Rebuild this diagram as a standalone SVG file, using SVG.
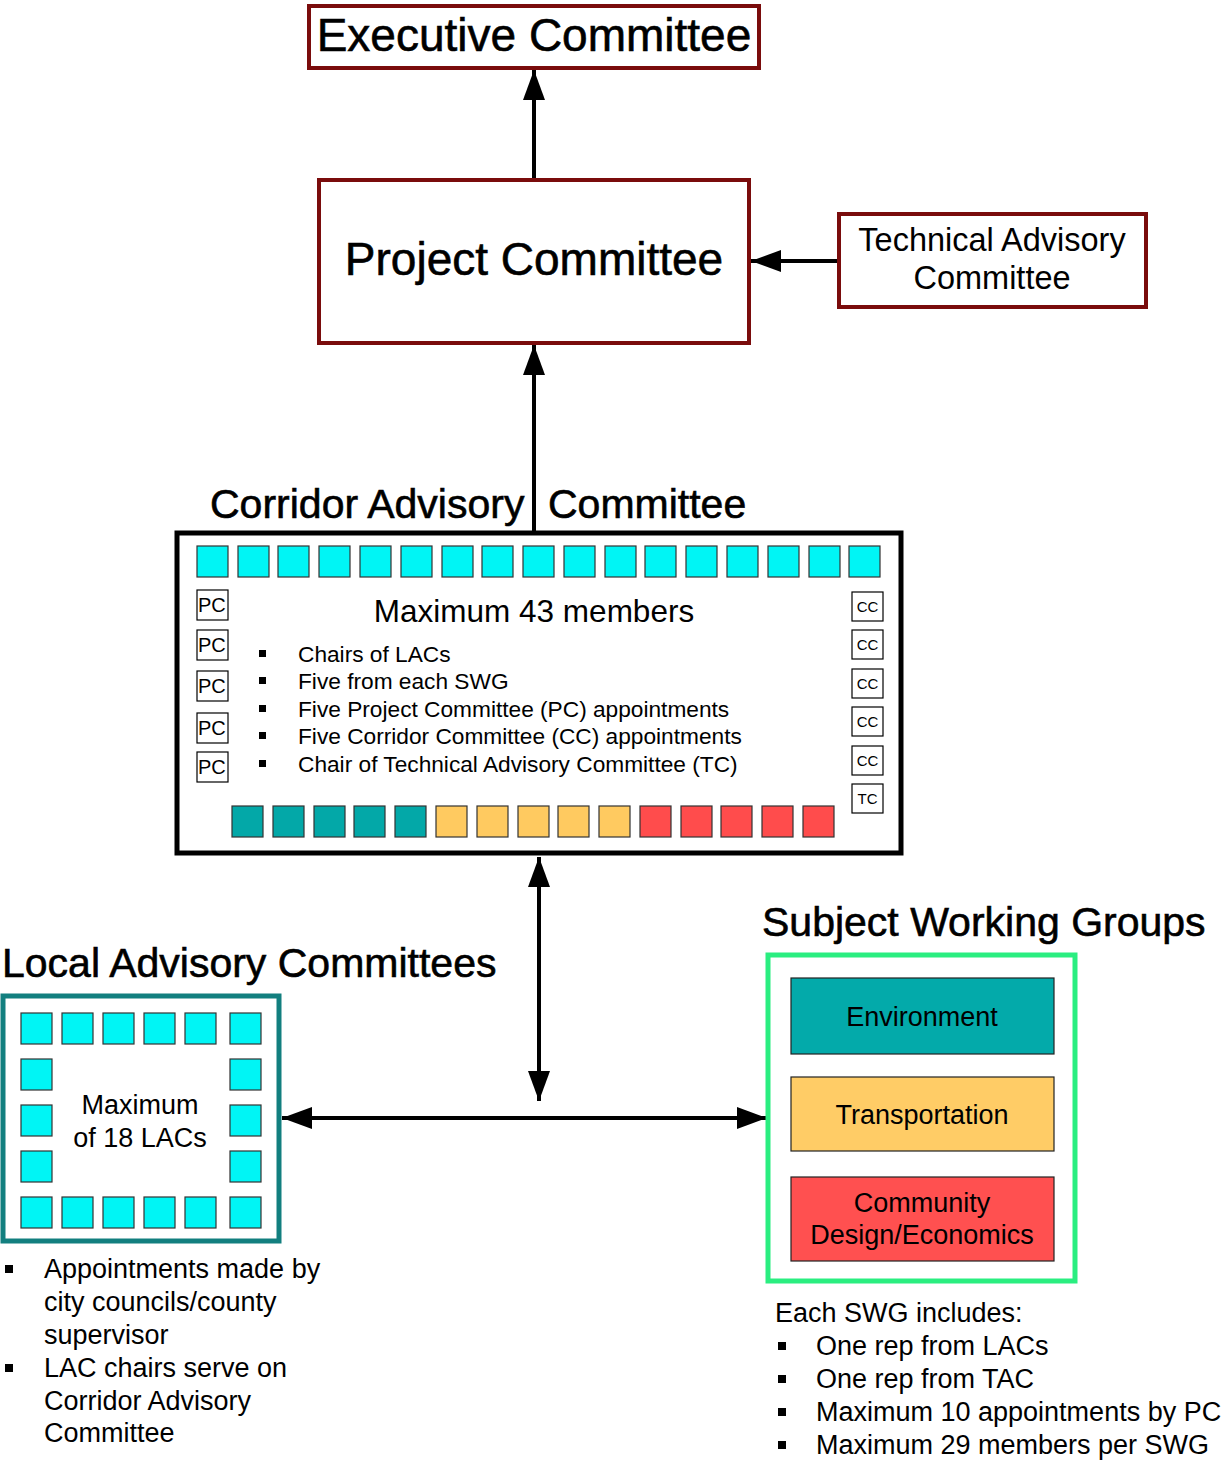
<svg xmlns="http://www.w3.org/2000/svg" width="1225" height="1462" viewBox="0 0 1225 1462">
<defs>
<style>
text{font-family:"Liberation Sans",Arial,sans-serif;fill:#000}
.mr{fill:#fff;stroke:#7a0c0c;stroke-width:4}
.cy{fill:#00f5f5;stroke:#333;stroke-width:1.2}
.te{fill:#03a8a8;stroke:#333;stroke-width:1.2}
.ye{fill:#ffca60;stroke:#333;stroke-width:1.2}
.re{fill:#ff4c4c;stroke:#333;stroke-width:1.2}
.lb{fill:#fff;stroke:#000;stroke-width:1.2}
.cn{stroke:#000;stroke-width:4;fill:none}
.h{font-size:41px;stroke:#000;stroke-width:0.6}
.b22{font-size:22.7px}
.b26{font-size:27px}
</style>
<marker id="ah" markerUnits="userSpaceOnUse" markerWidth="30" markerHeight="24" refX="30" refY="12" orient="auto-start-reverse" viewBox="0 0 30 24">
<path d="M0,1 L30,12 L0,23 z" fill="#000"/>
</marker>
</defs>
<rect width="1225" height="1462" fill="#fff"/>

<g id="connectors">
<line class="cn" x1="534" y1="179" x2="534" y2="70" marker-end="url(#ah)"/>
<line class="cn" x1="838" y1="261" x2="751" y2="261" marker-end="url(#ah)"/>
<line class="cn" x1="534" y1="533" x2="534" y2="345" marker-end="url(#ah)"/>
<line class="cn" x1="539" y1="857" x2="539" y2="1101" marker-start="url(#ah)" marker-end="url(#ah)"/>
<line class="cn" x1="282" y1="1118" x2="767" y2="1118" marker-start="url(#ah)" marker-end="url(#ah)"/>
</g>

<g id="executive-committee">
<rect class="mr" x="309" y="6" width="450" height="62"/>
<text x="534" y="51" font-size="46" text-anchor="middle" stroke="#000" stroke-width="0.6">Executive Committee</text>
</g>

<g id="project-committee">
<rect class="mr" x="319" y="180" width="430" height="163"/>
<text x="534" y="275" font-size="46" text-anchor="middle" stroke="#000" stroke-width="0.6">Project Committee</text>
</g>

<g id="technical-advisory-committee">
<rect class="mr" x="839" y="214" width="307" height="93"/>
<text x="992" y="251" font-size="32.5" text-anchor="middle">Technical Advisory</text>
<text x="992" y="289" font-size="32.5" text-anchor="middle">Committee</text>
</g>

<g id="corridor-advisory-committee">
<text class="h" x="210" y="518">Corridor Advisory</text>
<text class="h" x="548" y="518">Committee</text>
<rect x="177" y="533" width="724" height="320" fill="#fff" stroke="#000" stroke-width="5"/>
<g>
<rect class="cy" x="197" y="546" width="31" height="31"/>
<rect class="cy" x="238" y="546" width="31" height="31"/>
<rect class="cy" x="278" y="546" width="31" height="31"/>
<rect class="cy" x="319" y="546" width="31" height="31"/>
<rect class="cy" x="360" y="546" width="31" height="31"/>
<rect class="cy" x="401" y="546" width="31" height="31"/>
<rect class="cy" x="442" y="546" width="31" height="31"/>
<rect class="cy" x="482" y="546" width="31" height="31"/>
<rect class="cy" x="523" y="546" width="31" height="31"/>
<rect class="cy" x="564" y="546" width="31" height="31"/>
<rect class="cy" x="605" y="546" width="31" height="31"/>
<rect class="cy" x="645" y="546" width="31" height="31"/>
<rect class="cy" x="686" y="546" width="31" height="31"/>
<rect class="cy" x="727" y="546" width="31" height="31"/>
<rect class="cy" x="768" y="546" width="31" height="31"/>
<rect class="cy" x="809" y="546" width="31" height="31"/>
<rect class="cy" x="849" y="546" width="31" height="31"/>
</g>
<g>
<rect class="lb" x="197" y="590" width="31" height="30"/><text x="198" y="612" font-size="20">PC</text>
<rect class="lb" x="197" y="630" width="31" height="30"/><text x="198" y="652" font-size="20">PC</text>
<rect class="lb" x="197" y="671" width="31" height="30"/><text x="198" y="693" font-size="20">PC</text>
<rect class="lb" x="197" y="713" width="31" height="30"/><text x="198" y="735" font-size="20">PC</text>
<rect class="lb" x="197" y="752" width="31" height="30"/><text x="198" y="774" font-size="20">PC</text>
</g>
<g>
<rect class="lb" x="852" y="592" width="31" height="29"/><text x="867.5" y="612" font-size="15" text-anchor="middle">CC</text>
<rect class="lb" x="852" y="630" width="31" height="29"/><text x="867.5" y="650" font-size="15" text-anchor="middle">CC</text>
<rect class="lb" x="852" y="669" width="31" height="29"/><text x="867.5" y="689" font-size="15" text-anchor="middle">CC</text>
<rect class="lb" x="852" y="707" width="31" height="29"/><text x="867.5" y="727" font-size="15" text-anchor="middle">CC</text>
<rect class="lb" x="852" y="746" width="31" height="29"/><text x="867.5" y="766" font-size="15" text-anchor="middle">CC</text>
<rect class="lb" x="852" y="784" width="31" height="29"/><text x="867.5" y="804" font-size="15" text-anchor="middle">TC</text>
</g>
<text x="534" y="622" font-size="31.5" text-anchor="middle">Maximum 43 members</text>
<g>
<rect x="259" y="650" width="7" height="7"/><text x="298" y="662" class="b22">Chairs of LACs</text>
<rect x="259" y="677" width="7" height="7"/><text x="298" y="689" class="b22">Five from each SWG</text>
<rect x="259" y="705" width="7" height="7"/><text x="298" y="717" class="b22">Five Project Committee (PC) appointments</text>
<rect x="259" y="732" width="7" height="7"/><text x="298" y="744" class="b22">Five Corridor Committee (CC) appointments</text>
<rect x="259" y="760" width="7" height="7"/><text x="298" y="772" class="b22">Chair of Technical Advisory Committee (TC)</text>
</g>
<g>
<rect class="te" x="232" y="806" width="31" height="31"/>
<rect class="te" x="273" y="806" width="31" height="31"/>
<rect class="te" x="314" y="806" width="31" height="31"/>
<rect class="te" x="354" y="806" width="31" height="31"/>
<rect class="te" x="395" y="806" width="31" height="31"/>
<rect class="ye" x="436" y="806" width="31" height="31"/>
<rect class="ye" x="477" y="806" width="31" height="31"/>
<rect class="ye" x="518" y="806" width="31" height="31"/>
<rect class="ye" x="558" y="806" width="31" height="31"/>
<rect class="ye" x="599" y="806" width="31" height="31"/>
<rect class="re" x="640" y="806" width="31" height="31"/>
<rect class="re" x="681" y="806" width="31" height="31"/>
<rect class="re" x="721" y="806" width="31" height="31"/>
<rect class="re" x="762" y="806" width="31" height="31"/>
<rect class="re" x="803" y="806" width="31" height="31"/>
</g>
</g>

<g id="local-advisory-committees">
<text class="h" x="2" y="977">Local Advisory Committees</text>
<rect x="3" y="996" width="276" height="245" fill="#fff" stroke="#127f7f" stroke-width="5"/>
<rect class="cy" x="21" y="1013" width="31" height="31"/>
<rect class="cy" x="62" y="1013" width="31" height="31"/>
<rect class="cy" x="103" y="1013" width="31" height="31"/>
<rect class="cy" x="144" y="1013" width="31" height="31"/>
<rect class="cy" x="185" y="1013" width="31" height="31"/>
<rect class="cy" x="230" y="1013" width="31" height="31"/>
<rect class="cy" x="21" y="1059" width="31" height="31"/>
<rect class="cy" x="21" y="1105" width="31" height="31"/>
<rect class="cy" x="21" y="1151" width="31" height="31"/>
<rect class="cy" x="230" y="1059" width="31" height="31"/>
<rect class="cy" x="230" y="1105" width="31" height="31"/>
<rect class="cy" x="230" y="1151" width="31" height="31"/>
<rect class="cy" x="21" y="1197" width="31" height="31"/>
<rect class="cy" x="62" y="1197" width="31" height="31"/>
<rect class="cy" x="103" y="1197" width="31" height="31"/>
<rect class="cy" x="144" y="1197" width="31" height="31"/>
<rect class="cy" x="185" y="1197" width="31" height="31"/>
<rect class="cy" x="230" y="1197" width="31" height="31"/>
<text x="140" y="1114" class="b26" text-anchor="middle">Maximum</text>
<text x="140" y="1147" class="b26" text-anchor="middle">of 18 LACs</text>
</g>

<g id="lac-notes">
<rect x="5" y="1265" width="8" height="8"/>
<text x="44" y="1278" class="b26">Appointments made by</text>
<text x="44" y="1311" class="b26">city councils/county</text>
<text x="44" y="1344" class="b26">supervisor</text>
<rect x="5" y="1364" width="8" height="8"/>
<text x="44" y="1377" class="b26">LAC chairs serve on</text>
<text x="44" y="1410" class="b26">Corridor Advisory</text>
<text x="44" y="1442" class="b26">Committee</text>
</g>

<g id="subject-working-groups">
<text class="h" x="762" y="936">Subject Working Groups</text>
<rect x="768" y="955" width="307" height="326" fill="#fff" stroke="#2aee80" stroke-width="5"/>
<rect x="791" y="978" width="263" height="76" fill="#03aaaa" stroke="#222" stroke-width="1.2"/>
<text x="922" y="1026" class="b26" text-anchor="middle">Environment</text>
<rect x="791" y="1077" width="263" height="74" fill="#ffcc66" stroke="#222" stroke-width="1.2"/>
<text x="922" y="1124" class="b26" text-anchor="middle">Transportation</text>
<rect x="791" y="1177" width="263" height="84" fill="#ff5050" stroke="#222" stroke-width="1.2"/>
<text x="922" y="1212" class="b26" text-anchor="middle">Community</text>
<text x="922" y="1244" class="b26" text-anchor="middle">Design/Economics</text>
</g>

<g id="swg-notes">
<text x="775" y="1322" class="b26">Each SWG includes:</text>
<rect x="778" y="1342" width="8" height="8"/>
<text x="816" y="1355" class="b26">One rep from LACs</text>
<rect x="778" y="1375" width="8" height="8"/>
<text x="816" y="1388" class="b26">One rep from TAC</text>
<rect x="778" y="1408" width="8" height="8"/>
<text x="816" y="1421" class="b26">Maximum 10 appointments by PC</text>
<rect x="778" y="1441" width="8" height="8"/>
<text x="816" y="1454" class="b26">Maximum 29 members per SWG</text>
</g>
</svg>
